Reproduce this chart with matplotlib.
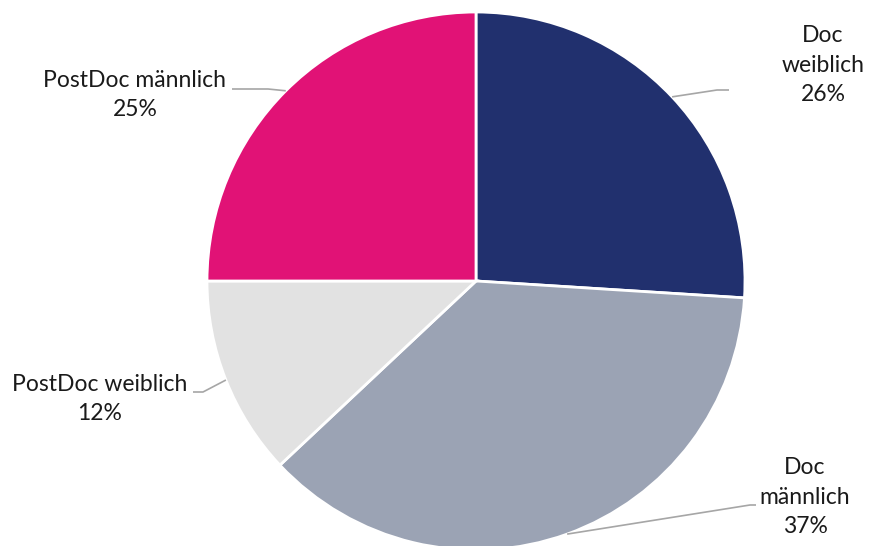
import matplotlib.pyplot as plt
import numpy as np

plt.rcParams['font.family'] = ['Lato', 'DejaVu Sans']

labels = ["Doc\nweiblich", "Doc\nmännlich", "PostDoc weiblich", "PostDoc männlich"]
values = [26, 37, 12, 25]
colors = ["#21306E", "#9BA3B4", "#E2E2E2", "#E11276"]

# layout in pixel coordinates (y from top)
W, H = 870, 546
cx, cy, r = 476, 281, 269
text_pos = [(823, 65), (805, 497), (100, 399), (135, 95)]
elbows = [[(717, 90), (729, 90)],
          [(750, 505), (756, 505)],
          [(203, 392), (193, 392)],
          [(268, 89), (232, 89)]]

fig = plt.figure(figsize=(W / 100, H / 100), dpi=100)
ax = fig.add_axes([0, 0, 1, 1])

wedges, _ = ax.pie(values, colors=colors, startangle=90, counterclock=False,
                   center=(cx, H - cy), radius=r,
                   wedgeprops=dict(edgecolor='white', linewidth=2))
for w in wedges:
    w.set_clip_on(False)

# pie() resets the limits, so set them afterwards
ax.set_xlim(0, W)
ax.set_ylim(0, H)
ax.set_aspect('equal')
ax.axis('off')

for w, lab, val, (tx, ty), elb in zip(wedges, labels, values, text_pos, elbows):
    ang = np.deg2rad((w.theta1 + w.theta2) / 2)
    ax0 = cx + r * np.cos(ang)
    ay0 = H - cy + r * np.sin(ang)
    xs = [ax0] + [p[0] for p in elb]
    ys = [ay0] + [H - p[1] for p in elb]
    ax.plot(xs, ys, color="#A6A6A6", lw=1.2, solid_capstyle='butt')
    ax.text(tx, H - ty, f"{lab}\n{val}%", ha='center', va='center',
            fontsize=16.5, color="#1A1A1A", linespacing=1.48)

fig.savefig("out.png", dpi=100)
